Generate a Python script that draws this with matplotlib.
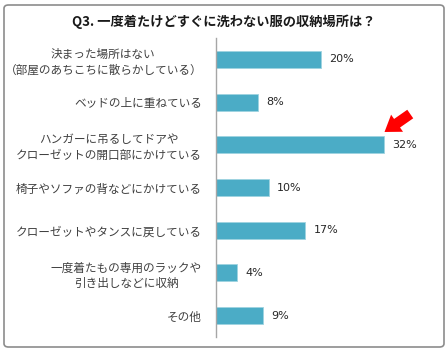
import matplotlib.pyplot as plt
from matplotlib.patches import FancyBboxPatch

plt.rcParams['font.family'] = ['Noto Sans CJK JP', 'DejaVu Sans']

title = "Q3. 一度着たけどすぐに洗わない服の収納場所は？"
categories = [
    "決まった場所はない\n（部屋のあちこちに散らかしている）",
    "ベッドの上に重ねている",
    "ハンガーに吊るしてドアや\nクローゼットの開口部にかけている",
    "椅子やソファの背などにかけている",
    "クローゼットやタンスに戻している",
    "一度着たもの専用のラックや\n引き出しなどに収納",
    "その他",
]
values = [20, 8, 32, 10, 17, 4, 9]

fig = plt.figure(figsize=(4.48, 3.51), dpi=100)
ax = fig.add_axes([216 / 448, 14 / 351, 210 / 448, 299 / 351])

# outer border like the original screenshot
border = FancyBboxPatch((4 / 448, 4 / 351), 440 / 448, 342 / 351,
                        boxstyle="round,pad=0,rounding_size=0.01",
                        transform=fig.transFigure, fill=False,
                        edgecolor="#8c8c8c", linewidth=1.2)
fig.patches.append(border)

y = list(range(len(values)))
ax.barh(y, values, height=0.4, color="#4BACC6", edgecolor="#9fd3e0", linewidth=0.6)
for yi, v in zip(y, values):
    ax.text(v + 1.6, yi, f"{v}%", va="center", ha="left", fontsize=8,
            color="#262626", family=['DejaVu Sans'])

ax.set_xlim(0, 40)
ax.set_ylim(len(values) - 0.5, -0.5)
ax.set_yticks(y)
ax.set_yticklabels(categories, fontsize=8.4, color="#404040", linespacing=1.25,
                   multialignment="center")
ax.tick_params(axis="y", length=0, pad=10)
ax.set_xticks([])
for s in ["top", "right", "bottom"]:
    ax.spines[s].set_visible(False)
ax.spines["left"].set_color("#a6a6a6")
ax.spines["left"].set_linewidth(1.0)

# red arrow pointing at the 32% bar
ax.annotate("", xy=(32.1, 1.70), xytext=(37.0, 1.28),
            arrowprops=dict(arrowstyle="simple,head_length=1.1,head_width=1.5,tail_width=0.75",
                            color="#ff0000", lw=0, shrinkA=0, shrinkB=0))

fig.text(224 / 448, 1 - 22 / 351, title, ha="center", va="center",
         fontsize=9.5, fontweight="bold", color="#1a1a1a")

fig.savefig("out.png", dpi=100)
